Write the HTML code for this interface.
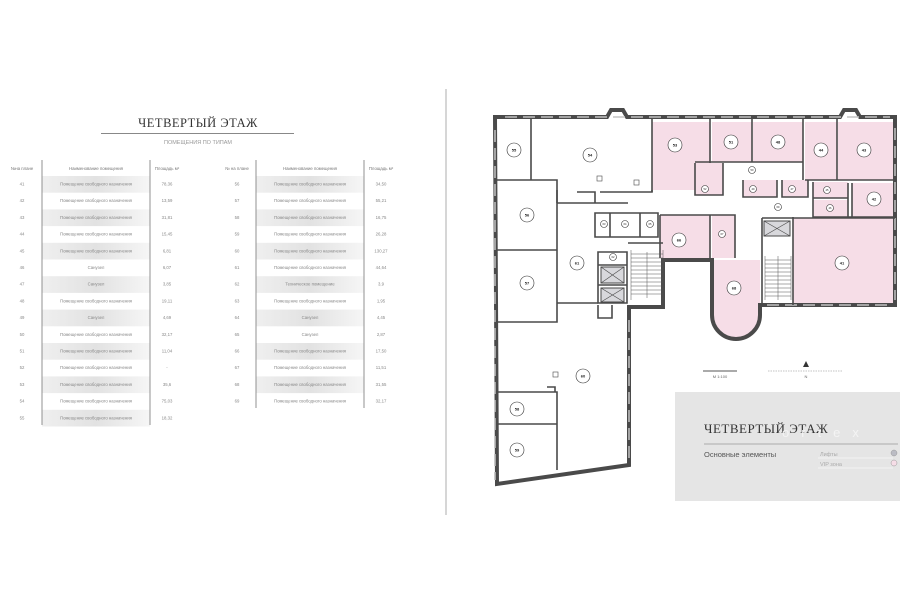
<!DOCTYPE html>
<html><head><meta charset="utf-8"><style>
html,body{margin:0;padding:0;background:#fff;}
svg{display:block;font-family:"Liberation Sans","DejaVu Sans",sans-serif;}
</style></head><body>
<svg width="900" height="604" viewBox="0 0 900 604" xmlns="http://www.w3.org/2000/svg">
<defs>
<linearGradient id="sh" x1="0" x2="1" y1="0" y2="0">
<stop offset="0" stop-color="#efefef"/><stop offset="0.5" stop-color="#e2e2e2"/><stop offset="1" stop-color="#f6f6f6"/>
</linearGradient>
</defs>
<rect width="900" height="604" fill="#fff"/>
<line x1="446" y1="89" x2="446" y2="515" stroke="#999" stroke-width="0.8"/>

<!-- title -->
<text x="198" y="127" font-family="Liberation Serif,serif" font-size="12.5" text-anchor="middle" fill="#333" letter-spacing="0.5">ЧЕТВЕРТЫЙ ЭТАЖ</text>
<line x1="101" y1="133.5" x2="294" y2="133.5" stroke="#888" stroke-width="1"/>
<text x="198" y="144" font-size="5.5" text-anchor="middle" fill="#999">ПОМЕЩЕНИЯ ПО ТИПАМ</text>

<g font-size="4.3" fill="#777" text-anchor="middle">
<text x="22" y="170">№на плане</text><text x="96" y="170">Наименование помещения</text><text x="167" y="170">Площадь м²</text>
<text x="237" y="170">№ на плане</text><text x="310" y="170">Наименование помещения</text><text x="381" y="170">Площадь м²</text>
</g>
<g fill="url(#sh)">
<rect x="42" y="176" width="108" height="16.7"/><rect x="42" y="209.4" width="108" height="16.7"/><rect x="42" y="242.8" width="108" height="16.7"/><rect x="42" y="276.2" width="108" height="16.7"/><rect x="42" y="309.6" width="108" height="16.7"/><rect x="42" y="343" width="108" height="16.7"/><rect x="42" y="376.4" width="108" height="16.7"/><rect x="42" y="409.8" width="108" height="16.7"/>
<rect x="256" y="176" width="108" height="16.7"/><rect x="256" y="209.4" width="108" height="16.7"/><rect x="256" y="242.8" width="108" height="16.7"/><rect x="256" y="276.2" width="108" height="16.7"/><rect x="256" y="309.6" width="108" height="16.7"/><rect x="256" y="343" width="108" height="16.7"/><rect x="256" y="376.4" width="108" height="16.7"/>
</g>
<g stroke="#777" stroke-width="0.8">
<line x1="42" y1="160" x2="42" y2="425"/><line x1="150" y1="160" x2="150" y2="425"/>
<line x1="256" y1="160" x2="256" y2="408"/><line x1="364" y1="160" x2="364" y2="408"/>
</g>
<g font-size="4.3" fill="#888" text-anchor="middle">
<g transform="translate(0,185.5)">
<text x="22" y="0">41</text><text x="96" y="0">Помещение свободного назначения</text><text x="167" y="0">78,36</text>
<text x="22" y="16.7">42</text><text x="96" y="16.7">Помещение свободного назначения</text><text x="167" y="16.7">13,59</text>
<text x="22" y="33.4">43</text><text x="96" y="33.4">Помещение свободного назначения</text><text x="167" y="33.4">31,81</text>
<text x="22" y="50.1">44</text><text x="96" y="50.1">Помещение свободного назначения</text><text x="167" y="50.1">15,45</text>
<text x="22" y="66.8">45</text><text x="96" y="66.8">Помещение свободного назначения</text><text x="167" y="66.8">6,81</text>
<text x="22" y="83.5">46</text><text x="96" y="83.5">Санузел</text><text x="167" y="83.5">6,07</text>
<text x="22" y="100.2">47</text><text x="96" y="100.2">Санузел</text><text x="167" y="100.2">3,85</text>
<text x="22" y="116.9">48</text><text x="96" y="116.9">Помещение свободного назначения</text><text x="167" y="116.9">19,11</text>
<text x="22" y="133.6">49</text><text x="96" y="133.6">Санузел</text><text x="167" y="133.6">4,69</text>
<text x="22" y="150.3">50</text><text x="96" y="150.3">Помещение свободного назначения</text><text x="167" y="150.3">32,17</text>
<text x="22" y="167">51</text><text x="96" y="167">Помещение свободного назначения</text><text x="167" y="167">11,04</text>
<text x="22" y="183.7">52</text><text x="96" y="183.7">Помещение свободного назначения</text><text x="167" y="183.7">-</text>
<text x="22" y="200.4">53</text><text x="96" y="200.4">Помещение свободного назначения</text><text x="167" y="200.4">35,6</text>
<text x="22" y="217.1">54</text><text x="96" y="217.1">Помещение свободного назначения</text><text x="167" y="217.1">75,03</text>
<text x="22" y="233.8">55</text><text x="96" y="233.8">Помещение свободного назначения</text><text x="167" y="233.8">18,32</text>
<text x="237" y="0">56</text><text x="310" y="0">Помещение свободного назначения</text><text x="381" y="0">34,50</text>
<text x="237" y="16.7">57</text><text x="310" y="16.7">Помещение свободного назначения</text><text x="381" y="16.7">55,21</text>
<text x="237" y="33.4">58</text><text x="310" y="33.4">Помещение свободного назначения</text><text x="381" y="33.4">16,75</text>
<text x="237" y="50.1">59</text><text x="310" y="50.1">Помещение свободного назначения</text><text x="381" y="50.1">26,28</text>
<text x="237" y="66.8">60</text><text x="310" y="66.8">Помещение свободного назначения</text><text x="381" y="66.8">130,27</text>
<text x="237" y="83.5">61</text><text x="310" y="83.5">Помещение свободного назначения</text><text x="381" y="83.5">44,64</text>
<text x="237" y="100.2">62</text><text x="310" y="100.2">Техническое помещение</text><text x="381" y="100.2">3,9</text>
<text x="237" y="116.9">63</text><text x="310" y="116.9">Помещение свободного назначения</text><text x="381" y="116.9">1,95</text>
<text x="237" y="133.6">64</text><text x="310" y="133.6">Санузел</text><text x="381" y="133.6">4,45</text>
<text x="237" y="150.3">65</text><text x="310" y="150.3">Санузел</text><text x="381" y="150.3">2,87</text>
<text x="237" y="167">66</text><text x="310" y="167">Помещение свободного назначения</text><text x="381" y="167">17,50</text>
<text x="237" y="183.7">67</text><text x="310" y="183.7">Помещение свободного назначения</text><text x="381" y="183.7">11,51</text>
<text x="237" y="200.4">68</text><text x="310" y="200.4">Помещение свободного назначения</text><text x="381" y="200.4">31,55</text>
<text x="237" y="217.1">69</text><text x="310" y="217.1">Помещение свободного назначения</text><text x="381" y="217.1">32,17</text>
</g>
</g>

<!-- PLAN -->
<!-- pink rooms -->
<g fill="#f6dde7">
<rect x="652" y="122" width="58" height="68"/>
<rect x="712" y="122" width="40" height="40"/>
<rect x="753" y="122" width="50" height="40"/>
<rect x="805" y="122" width="32" height="58"/>
<rect x="838" y="122" width="57" height="58"/>
<rect x="695" y="163" width="28" height="32"/>
<rect x="743" y="180" width="34" height="17"/>
<rect x="782" y="180" width="26" height="17"/>
<rect x="813" y="182" width="35" height="16"/>
<rect x="813" y="200" width="35" height="17"/>
<rect x="852" y="183" width="43" height="34"/>
<rect x="660" y="215" width="50" height="43"/>
<rect x="712" y="215" width="23" height="43"/>
<path d="M712 260 H760 V315 A24 24 0 0 1 712 315 Z"/>
<rect x="793" y="218" width="102" height="85"/>
</g>
<!-- outer walls -->
<g fill="none" stroke="#4a4a4a" stroke-width="4" stroke-linejoin="miter">
<path d="M495 117 H607 L611 110 H623 L627 117 H840 L844 110 H856 L860 117 H895 V305 H760 V315 A24 24 0 0 1 712 315 V260 H663 V307 H629 V465 L497 484 Z"/>
</g>
<!-- windows on outer walls -->
<g stroke="#fff" stroke-width="1.6" stroke-dasharray="12 6">
<line x1="495" y1="130" x2="495" y2="480"/>
<line x1="629" y1="320" x2="629" y2="460"/>
<line x1="505" y1="117" x2="890" y2="117"/>
<line x1="895" y1="128" x2="895" y2="300"/>
<line x1="767" y1="305" x2="890" y2="305"/>
</g>
<g stroke="#4a4a4a" stroke-width="0.6" stroke-dasharray="12 6">
<line x1="495" y1="130" x2="495" y2="480"/>
<line x1="629" y1="320" x2="629" y2="460"/>
<line x1="505" y1="117" x2="890" y2="117"/>
<line x1="895" y1="128" x2="895" y2="300"/>
<line x1="767" y1="305" x2="890" y2="305"/>
</g>
<!-- interior walls -->
<g fill="none" stroke="#4a4a4a" stroke-width="1.6">
<path d="M531 118 V180"/>
<path d="M497 180 H557 V322 H497"/>
<path d="M497 250 H557"/>
<path d="M557 203 H628 M557 190 V203"/>
<path d="M577 192 H595 V203 M600 192 H652 V190"/>
<path d="M652 118 V192 M710 118 V163 M752 118 V162 M803 118 V180 M837 118 V180"/>
<path d="M695 162 H803 M695 163 V195 H723 V163"/>
<path d="M743 180 V197 H777 V180 M782 180 V197 H808 V180"/>
<path d="M805 180 H895 M813 182 V217 H852 M813 198 H848 M848 183 V217 M852 183 V217 H895"/>
<path d="M595 213 H658 V237 H595 Z M610 213 V237 M640 213 V237"/>
<path d="M660 215 H735 V258 M710 215 V258 M660 215 V258"/>
<path d="M793 217 V305 M762 218 H895 M762 218 V305"/>
<path d="M598 252 H627 V303 H598 Z M598 265 H627 M598 285 H627"/>
<path d="M557 303 H598 M598 305 V318 H612 V305"/>
<path d="M497 392 H557 V470 M497 424 H557 M547 387 H555 V392"/>
<path d="M628 243 H663"/>
</g>
<!-- elevators -->
<g fill="#d8d8dc" stroke="#4a4a4a" stroke-width="1">
<rect x="601" y="267" width="23" height="16"/><rect x="601" y="288" width="23" height="14"/><rect x="764" y="221" width="26" height="15"/>
</g>
<g stroke="#4a4a4a" stroke-width="0.6">
<path d="M601 267 L624 283 M624 267 L601 283 M601 288 L624 302 M624 288 L601 302 M764 221 L790 236 M790 221 L764 236"/>
</g>
<!-- stairs -->
<g stroke="#555" stroke-width="0.5">
<path d="M631 250 V300 M663 250 V300 M647 252 V298 M765 256 V300 M791 256 V300 M778 256 V300"/>
<path d="M631 254 H663 M631 258 H663 M631 262 H663 M631 266 H663 M631 270 H663 M631 274 H663 M631 278 H663 M631 282 H663 M631 286 H663 M631 290 H663 M631 294 H663"/>
<path d="M765 260 H791 M765 264 H791 M765 268 H791 M765 272 H791 M765 276 H791 M765 280 H791 M765 284 H791 M765 288 H791 M765 292 H791 M765 296 H791"/>
</g>
<!-- columns -->
<g fill="#fff" stroke="#4a4a4a" stroke-width="0.6">
<rect x="597" y="176" width="5" height="5"/><rect x="553" y="372" width="5" height="5"/><rect x="634" y="180" width="5" height="5"/>
</g>
<!-- labels -->
<g fill="#fff" stroke="#333" stroke-width="0.6">
<circle cx="514" cy="150" r="7"/><circle cx="590" cy="155" r="7"/><circle cx="527" cy="215" r="7"/><circle cx="527" cy="283" r="7"/><circle cx="577" cy="263" r="7"/><circle cx="583" cy="376" r="7"/><circle cx="517" cy="409" r="7"/><circle cx="517" cy="450" r="7"/>
<circle cx="675" cy="145" r="7"/><circle cx="731" cy="142" r="7"/><circle cx="778" cy="142" r="7"/><circle cx="821" cy="150" r="7"/><circle cx="864" cy="150" r="7"/><circle cx="874" cy="199" r="7"/><circle cx="842" cy="263" r="7"/><circle cx="679" cy="240" r="7"/><circle cx="734" cy="288" r="7"/>
<circle cx="705" cy="189" r="3.5"/><circle cx="752" cy="170" r="3.5"/><circle cx="753" cy="189" r="3.5"/><circle cx="792" cy="189" r="3.5"/><circle cx="827" cy="190" r="3.5"/><circle cx="830" cy="208" r="3.5"/><circle cx="778" cy="207" r="3.5"/><circle cx="722" cy="234" r="3.5"/><circle cx="604" cy="224" r="3.5"/><circle cx="625" cy="224" r="3.5"/><circle cx="650" cy="224" r="3.5"/><circle cx="613" cy="257" r="3.5"/>
</g>
<g font-size="4" fill="#222" text-anchor="middle" font-weight="bold">
<text x="514" y="151.5">55</text><text x="590" y="156.5">54</text><text x="527" y="216.5">56</text><text x="527" y="284.5">57</text><text x="577" y="264.5">61</text><text x="583" y="377.5">60</text><text x="517" y="410.5">58</text><text x="517" y="451.5">59</text>
<text x="675" y="146.5">53</text><text x="731" y="143.5">51</text><text x="778" y="143.5">48</text><text x="821" y="151.5">44</text><text x="864" y="151.5">43</text><text x="874" y="200.5">42</text><text x="842" y="264.5">41</text><text x="679" y="241.5">66</text><text x="734" y="289.5">68</text>
</g>
<g font-size="2.6" fill="#222" text-anchor="middle">
<text x="705" y="190">52</text><text x="752" y="171">50</text><text x="753" y="190">49</text><text x="792" y="190">47</text><text x="827" y="191">45</text><text x="830" y="209">46</text><text x="778" y="208">69</text><text x="722" y="235">67</text><text x="604" y="225">63</text><text x="625" y="225">64</text><text x="650" y="225">65</text><text x="613" y="258">62</text>
</g>

<!-- scale / north -->
<line x1="703" y1="371" x2="737" y2="371" stroke="#555" stroke-width="1"/>
<text x="720" y="378" font-size="4" fill="#666" text-anchor="middle">М 1:100</text>
<line x1="768" y1="371" x2="843" y2="371" stroke="#888" stroke-width="0.6" stroke-dasharray="1.5 1"/>
<path d="M806 361 L803 367 H809 Z" fill="#333"/>
<text x="806" y="378" font-size="4" fill="#666" text-anchor="middle">N</text>

<!-- legend -->
<rect x="675" y="392" width="225" height="109" fill="#e5e5e5"/>
<text x="704" y="433" font-family="Liberation Serif,serif" font-size="13" fill="#333" letter-spacing="0.5">ЧЕТВЕРТЫЙ ЭТАЖ</text>
<text x="782" y="437" font-size="13" fill="#f4f4f4" letter-spacing="12">ortex</text>
<line x1="704" y1="444" x2="898" y2="444" stroke="#999" stroke-width="0.8"/>
<text x="704" y="457" font-size="7.5" fill="#555">Основные элементы</text>
<text x="820" y="456" font-size="5.5" fill="#aaa">Лифты</text>
<line x1="818" y1="458" x2="893" y2="458" stroke="#fff" stroke-width="0.6"/>
<text x="820" y="466" font-size="5.5" fill="#aaa">VIP зона</text>
<line x1="818" y1="468" x2="893" y2="468" stroke="#fff" stroke-width="0.6"/>
<circle cx="894" cy="453" r="3" fill="#bbbcc4" stroke="#999" stroke-width="0.5"/>
<circle cx="894" cy="463" r="3" fill="#f6dde7" stroke="#999" stroke-width="0.5"/>
</svg>
</body></html>
